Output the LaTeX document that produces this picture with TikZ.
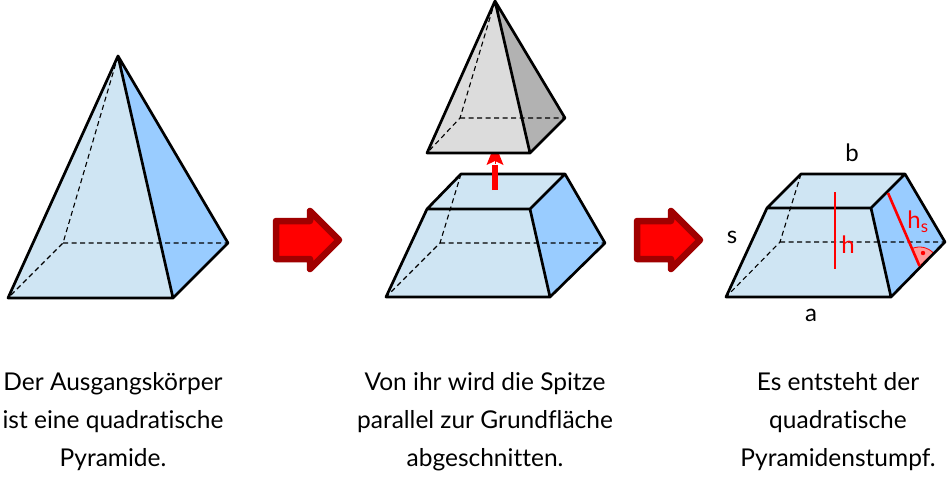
\documentclass[tikz,border=0pt]{standalone}
\usepackage{fontspec}
\setmainfont{Lato}[Ligatures=NoCommon]
\usepackage{tikz}
\usetikzlibrary{arrows.meta,positioning}

\definecolor{frontblue}{HTML}{CFE5F3}
\definecolor{sideblue}{HTML}{99CCFF}
\definecolor{frontgray}{HTML}{DCDCDC}
\definecolor{sidegray}{HTML}{B2B2B2}
\definecolor{darkred}{HTML}{A00000}
\definecolor{anglered}{HTML}{FF9A9A}

\begin{document}
\begin{tikzpicture}[
      x=1pt,y=-1pt,
      edge/.style={line width=2.7pt,line join=round,line cap=round},
      hidden/.style={line width=1.1pt,dash pattern=on 5pt off 3.5pt},
      frontface/.style={fill=frontblue},
      sideface/.style={fill=sideblue},
      redline/.style={draw=red,line width=2.6pt},
      bigarrow/.style={fill=red,draw=darkred,line width=6.5pt,line join=round},
      caption/.style={align=center,font=\fontsize{24.5}{38}\selectfont,inner sep=0pt},
      dimlabel/.style={font=\fontsize{24}{24}\selectfont,inner sep=0pt}
    ]
      \useasboundingbox (0,0) rectangle (947,480);

      % first pyramid
      \coordinate (A1) at (118,56);
      \coordinate (FL1) at (8,298);
      \coordinate (FR1) at (173,298);
      \coordinate (BR1) at (228,243);
      \coordinate (BL1) at (63,243);
      \fill[sideface] (A1) -- (BR1) -- (FR1) -- cycle;
      \fill[frontface] (A1) -- (FR1) -- (FL1) -- cycle;
      \draw[hidden] (A1) -- (BL1) -- (FL1) (BL1) -- (BR1);
      \draw[edge] (FL1) -- (FR1) -- (BR1) -- (A1) -- cycle (A1) -- (FR1);

      % big arrows
      \foreach \ax in {0,361}{
        \draw[bigarrow,xshift=\ax pt] (276,221) -- (310,221) -- (310,211) -- (339,240) -- (310,269) -- (310,259) -- (276,259) -- cycle;
      }

      % cut frustum
      \coordinate (TFL2) at (427,209);
      \coordinate (TFR2) at (530,209);
      \coordinate (TBR2) at (565,174);
      \coordinate (TBL2) at (461,174);
      \coordinate (FL2) at (386,297);
      \coordinate (FR2) at (550,297);
      \coordinate (BR2) at (605,243);
      \coordinate (BL2) at (440,243);
      \fill[sideface] (TFR2) -- (TBR2) -- (BR2) -- (FR2) -- cycle;
      \fill[frontface] (TFL2) -- (TBL2) -- (TBR2) -- (TFR2) -- (FR2) -- (FL2) -- cycle;
      \draw[hidden] (TBL2) -- (BL2) -- (FL2) (BL2) -- (BR2);
      \draw[edge] (FL2) -- (FR2) -- (BR2) -- (TBR2) -- (TBL2) -- (TFL2) -- cycle
        (TFL2) -- (TFR2) -- (TBR2) (TFR2) -- (FR2);

      % lift arrow, its tip goes under the small pyramid
      \coordinate (liftstart) at (495,190);
      \coordinate (liftend) at (495,165);
      \coordinate (lifttip) at (495,144);
      \draw[red,line width=6pt] (liftstart) -- (liftend);
      \draw[red,line width=0pt,-{Stealth[length=21pt,width=17pt,inset=4pt]}] (liftend) ++(0,-2) -- (lifttip);

      % small pyramid
      \coordinate (A3) at (495,1);
      \coordinate (FL3) at (427,153);
      \coordinate (FR3) at (530,153);
      \coordinate (BR3) at (565,118);
      \coordinate (BL3) at (460,118);
      \fill[sidegray] (A3) -- (BR3) -- (FR3) -- cycle;
      \fill[frontgray] (A3) -- (FR3) -- (FL3) -- cycle;
      \draw[hidden] (A3) -- (BL3) -- (FL3) (BL3) -- (BR3);
      \draw[edge] (FL3) -- (FR3) -- (BR3) -- (A3) -- cycle (A3) -- (FR3);

      % final frustum
      \coordinate (TFL4) at (767,208);
      \coordinate (TFR4) at (871,208);
      \coordinate (TBR4) at (905,174);
      \coordinate (TBL4) at (801,174);
      \coordinate (FL4) at (726,297);
      \coordinate (FR4) at (891,297);
      \coordinate (BR4) at (945,242);
      \coordinate (BL4) at (780,242);
      \fill[sideface] (TFR4) -- (TBR4) -- (BR4) -- (FR4) -- cycle;
      \fill[frontface] (TFL4) -- (TBL4) -- (TBR4) -- (TFR4) -- (FR4) -- (FL4) -- cycle;
      \coordinate (foot) at (919.5,266);
      \coordinate (slanttop) at (888,193);
      \coordinate (dot) at (923,253);
      \filldraw[fill=anglered,draw=red,line width=0.8pt] (foot) -- ++(42:19pt) arc (42:113:19pt) -- cycle;
      \fill[red] (dot) circle (2.2pt);
      \draw[hidden] (TBL4) -- (BL4) -- (FL4) (BL4) -- (BR4);
      \draw[edge] (FL4) -- (FR4) -- (BR4) -- (TBR4) -- (TBL4) -- (TFL4) -- cycle
        (TFL4) -- (TFR4) -- (TBR4) (TFR4) -- (FR4);
      \coordinate (htop) at (835,192);
      \coordinate (hbottom) at (835,269);
      \draw[redline] (htop) -- (hbottom);
      \draw[redline] (slanttop) -- (foot);

      \node[dimlabel,text=red] (hlabel) at (848,245) {h};
      \node[dimlabel,text=red] (hslabel) at (918,222) {h\textsubscript{s}};
      \node[dimlabel] (alabel) at (811,315) {a};
      \node[dimlabel] (blabel) at (852,153) {b};
      \node[dimlabel] (slabel) at (732,237) {s};

      \node[caption] (textleft) at (113,422) {Der Ausgangskörper\\ist eine quadratische\\Pyramide.};
      \node[caption] (textmid) at (485,422) {Von ihr wird die Spitze\\parallel zur Grundfläche\\abgeschnitten.};
      \node[caption] (textright) at (838,422) {Es entsteht der\\quadratische\\Pyramidenstumpf.};
    \end{tikzpicture}
\end{document}
